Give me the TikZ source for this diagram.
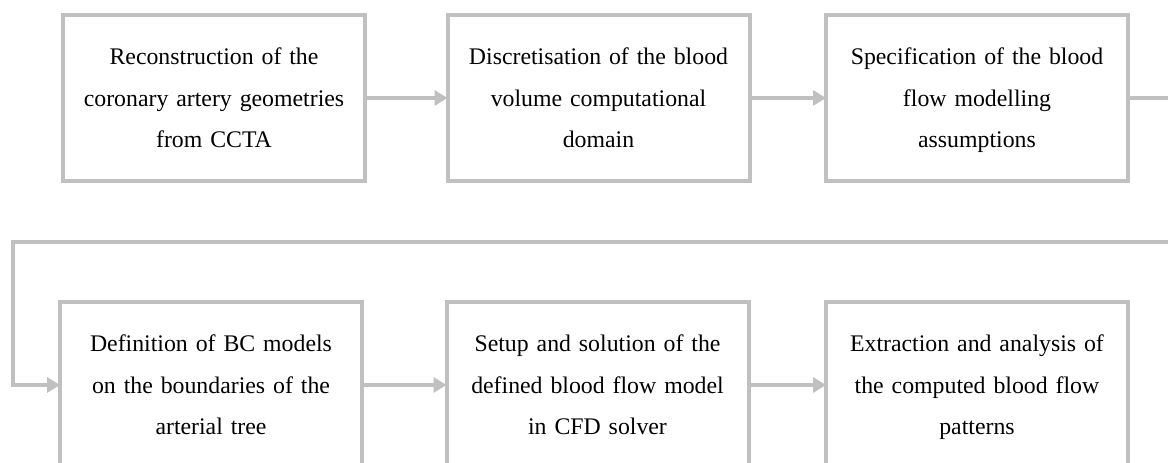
\documentclass[tikz,border=0pt]{standalone}
\usepackage{fontspec}
\setmainfont{Liberation Serif}
\usetikzlibrary{arrows.meta}
\definecolor{linegray}{HTML}{C0C0C0}
\tikzset{
  x=1pt,y=1pt,
  stepbox/.style={draw=linegray, line width=4pt, minimum width=302pt, minimum height=166pt,
    inner sep=0pt, outer sep=0pt, align=center, text width=290pt,
    font=\fontsize{23.8}{41.5}\selectfont,
    execute at begin node=\strut, execute at end node=\strut},
  flow/.style={draw=linegray, line width=4pt, -{Triangle[length=13pt,width=15pt]}}
}
\begin{document}
\begin{tikzpicture}
\useasboundingbox (0,0) rectangle (1168,463);
\clip (0,0) rectangle (1168,463);
\node[stepbox] (b1) at (214,365) {Reconstruction of the\\coronary artery geometries\\from CCTA};
\node[stepbox] (b2) at (598.5,365) {Discretisation of the blood\\volume computational\\domain};
\node[stepbox] (b3) at (977,365) {Specification of the blood\\flow modelling\\assumptions};
\node[stepbox] (b4) at (211,78) {Definition of BC models\\on the boundaries of the\\arterial tree};
\node[stepbox] (b5) at (597.5,78) {Setup and solution of the\\defined blood flow model\\in CFD solver};
\node[stepbox] (b6) at (977,78) {Extraction and analysis of\\the computed blood flow\\patterns};
\coordinate (r1) at (1180,365);
\coordinate (r2) at (1180,221);
\coordinate (l1) at (13,221);
\coordinate (l2) at (13,78);
\draw[flow] (b1.east) -- (b2.west);
\draw[flow] (b2.east) -- (b3.west);
\draw[flow] (b3.east) -- (r1) -- (r2) -- (l1) -- (l2) -- (b4.west);
\draw[flow] (b4.east) -- (b5.west);
\draw[flow] (b5.east) -- (b6.west);
\end{tikzpicture}
\end{document}
